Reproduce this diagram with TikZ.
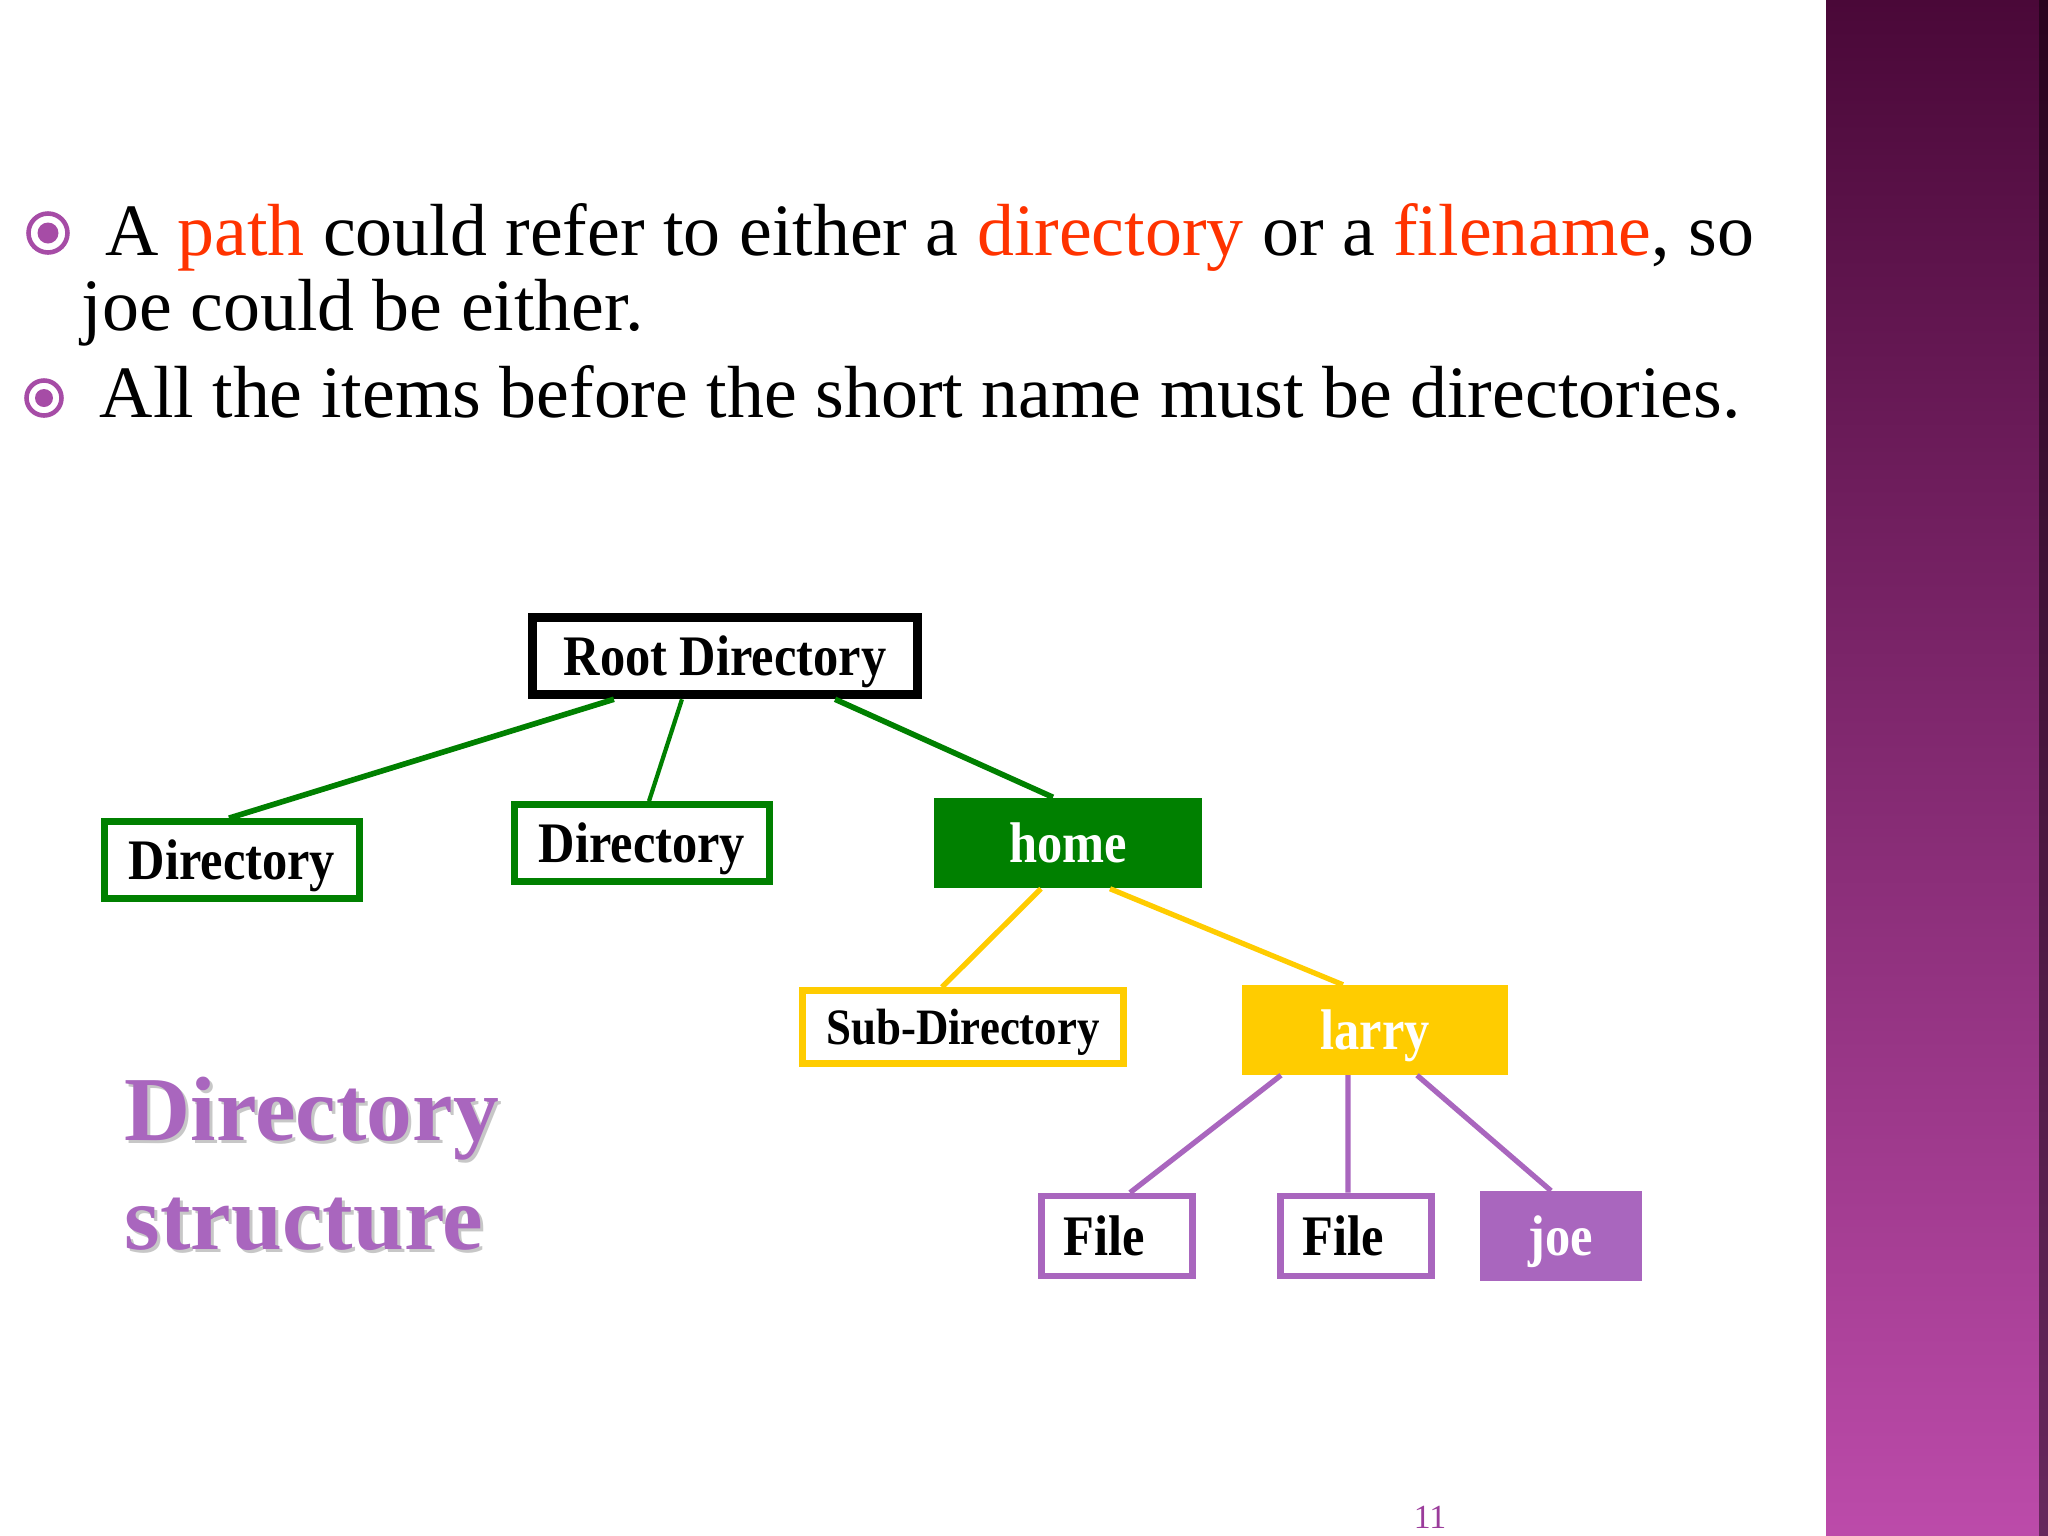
\documentclass[tikz,border=0pt]{standalone}
\usepackage{fontspec}
\setmainfont{Liberation Serif}
\newfontfamily\boxfont{Liberation Serif}[FakeStretch=0.88]
\usetikzlibrary{positioning}
\definecolor{TextRed}{HTML}{FF3300}
\definecolor{BulletPurple}{HTML}{A64CA6}
\definecolor{TreeGreen}{HTML}{008000}
\definecolor{TreeYellow}{HTML}{FFCC00}
\definecolor{TreePurple}{HTML}{A966BE}
\definecolor{BarTop}{HTML}{4A0838}
\definecolor{BarMid}{HTML}{8A3A7E}
\definecolor{BarBottom}{HTML}{BC4BAA}
\definecolor{PageNum}{HTML}{9B3C9B}

\tikzset{
  treebox/.style={rectangle, inner sep=0pt, text height=11pt, text depth=0pt,
    font=\boxfont\bfseries\fontsize{16.3}{18}\selectfont},
  rootbox/.style={treebox, draw=black, line width=2.7pt, fill=white,
    minimum width=3.85cm, minimum height=0.77cm},
  dirbox/.style={treebox, draw=TreeGreen, line width=1.9pt, fill=white,
    minimum width=2.55cm, minimum height=0.77cm},
  homebox/.style={treebox, fill=TreeGreen, text=white,
    minimum width=2.67cm, minimum height=0.90cm},
  subbox/.style={treebox, draw=TreeYellow, line width=1.9pt, fill=white,
    minimum width=3.21cm, minimum height=0.73cm, text height=10pt,
    font=\boxfont\bfseries\fontsize{14.5}{16}\selectfont},
  larrybox/.style={treebox, fill=TreeYellow, text=white,
    minimum width=2.66cm, minimum height=0.89cm},
  filebox/.style={treebox, draw=TreePurple, line width=1.9pt, fill=white,
    minimum width=1.51cm, minimum height=0.80cm,
    inner xsep=0.22cm, text width=1.07cm, align=left},
  joebox/.style={treebox, fill=TreePurple, text=white,
    minimum width=1.61cm, minimum height=0.89cm},
  greenline/.style={draw=TreeGreen, line width=1.6pt},
  yellowline/.style={draw=TreeYellow, line width=1.5pt},
  purpleline/.style={draw=TreePurple, line width=1.5pt},
  bodytext/.style={anchor=base west, inner sep=0pt, font=\fontsize{21}{25}\selectfont},
}

\begin{document}
\begin{tikzpicture}[x=0.01cm,y=-0.01cm]
  \useasboundingbox (0,0) rectangle (2048,1536);
  \fill[white] (0,0) rectangle (2048,1536);

  % side bar
  \shade[top color=BarTop, middle color=BarMid, bottom color=BarBottom]
    (1826,0) rectangle (2048,1536);
  \fill[black, opacity=0.45] (2039,0) rectangle (2048,1536);

  % bullets
  \foreach \bx/\by/\br/\bd in {48/233/19.5/10.5, 44/398/17.5/9} {
    \draw[BulletPurple, line width=1.3pt] (\bx,\by) circle (\br);
    \fill[BulletPurple] (\bx,\by) circle (\bd);
  }

  % text
  \node[bodytext] (line1) at (105,255) {A \textcolor{TextRed}{path} could refer to either a
    \textcolor{TextRed}{directory} or a \textcolor{TextRed}{filename}, so};
  \node[bodytext] (line2) at (81,330) {joe could be either.};
  \node[bodytext] (line3) at (99,417) {All the items before the short name must be directories.};

  % tree
  \node[rootbox] (root) at (725,656) {Root Directory};
  \node[dirbox] (dirA) at (232,860) {Directory};
  \node[dirbox] (dirB) at (642,843) {Directory};
  \node[homebox] (home) at (1068,843) {home};
  \node[subbox] (sub) at (963,1027) {Sub-Directory};
  \node[larrybox] (larry) at (1375,1030) {larry};
  \node[filebox] (fileA) at (1117,1236) {File};
  \node[filebox] (fileB) at (1356,1236) {File};
  \node[joebox] (joe) at (1561,1236) {joe};

  \draw[greenline] ([xshift=-1.11cm]root.south) -- ([xshift=-0.03cm]dirA.north);
  \draw[greenline, line width=1.2pt] ([xshift=-0.43cm]root.south) -- ([xshift=0.07cm]dirB.north);
  \draw[greenline] ([xshift=1.10cm]root.south) -- ([xshift=-0.15cm]home.north);
  \draw[yellowline] ([xshift=-0.27cm]home.south) -- ([xshift=-0.21cm]sub.north);
  \draw[yellowline] ([xshift=0.42cm]home.south) -- ([xshift=-0.32cm]larry.north);
  \foreach \from/\to/\child in {-0.94/0.13/fileA, -0.27/-0.08/fileB, 0.42/-0.10/joe}
    \draw[purpleline] ([xshift=\from cm]larry.south) -- ([xshift=\to cm]\child.north);

  % title
  \foreach \dx/\col in {3/black!22, 0/TreePurple} {
    \node[anchor=base west, inner sep=0pt, text=\col,
      font=\bfseries\fontsize{26}{30}\selectfont] (title1) at (124+\dx,1140+\dx) {Directory};
    \node[anchor=base west, inner sep=0pt, text=\col,
      font=\bfseries\fontsize{26}{30}\selectfont] (title2) at (124+\dx,1249+\dx) {structure};
  }

  \node[text=PageNum, font=\fontsize{9.6}{11}\selectfont, anchor=base] (pagenum) at (1430,1528) {11};
\end{tikzpicture}
\end{document}
